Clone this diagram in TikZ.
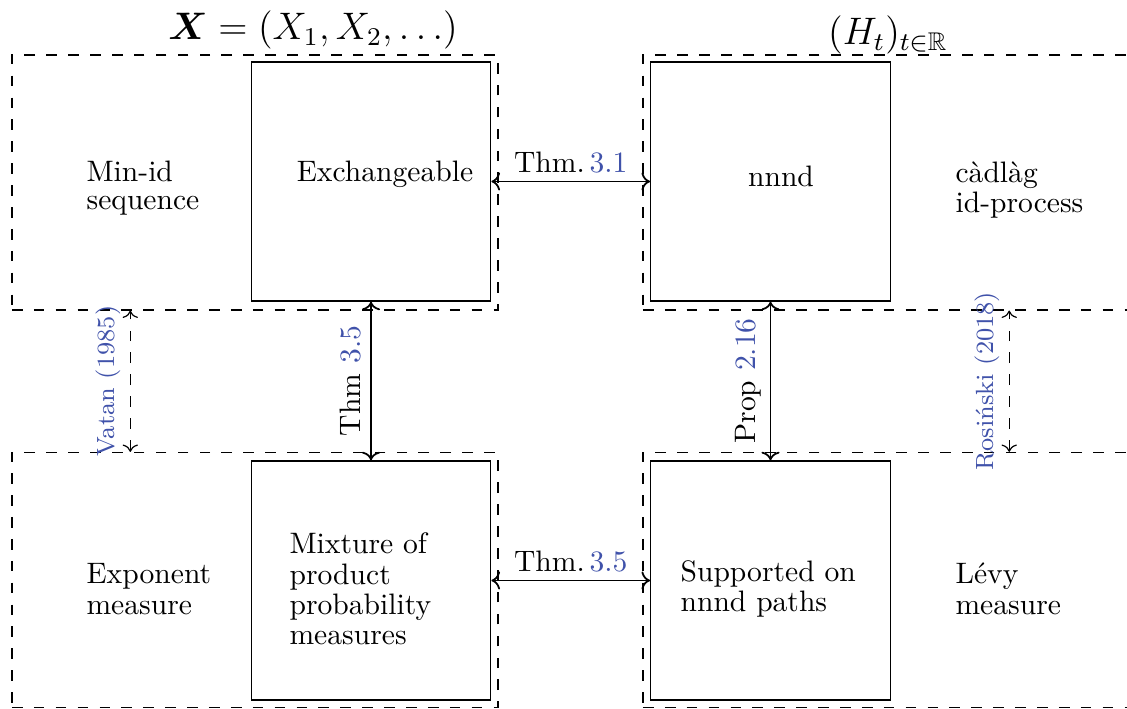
\documentclass[tikz,border=0pt]{standalone}
\usepackage{amsmath}
\usepackage{amssymb}
\usetikzlibrary{arrows.meta}
\definecolor{refBlue}{RGB}{64,82,170}
\tikzset{
  solidbox/.style={draw, minimum width=81pt, minimum height=80.8pt, inner sep=0pt},
  groupbox/.style={draw, dash pattern=on 3.6pt off 3.8pt, minimum width=164.3pt, minimum height=86.2pt, inner sep=0pt},
  txt/.style={align=left, inner sep=0pt, font=\fontsize{10}{10.3}\selectfont},
  equiv/.style={{To}-{To}, semithick},
  citeequiv/.style={{To}-{To}, dash pattern=on 3.6pt off 3.8pt},
  reflbl/.style={inner sep=2.4pt, font=\fontsize{10}{12}\selectfont},
  citelbl/.style={inner sep=3pt, font=\fontsize{8.4}{10}\selectfont, text=refBlue},
  toplbl/.style={anchor=base, font=\large, scale=1.08, transform shape}
}
\newcommand{\refno}[1]{\textcolor{refBlue}{#1}}

\begin{document}
\begin{tikzpicture}[x=0.338pt,y=0.338pt]
  \clip (0,0) rectangle (1127,709);
  % dashed groups
  \node[groupbox] (grpTL) at (255,526.5) {};
  \node[groupbox] (grpTR) at (886,526.5) {};
  \node[groupbox] (grpBL) at (255,129) {};
  \node[groupbox] (grpBR) at (886,129) {};
  % solid boxes
  \node[solidbox] (exch) at (371,527.5) {};
  \node[solidbox] (nnnd) at (770.5,527.5) {};
  \node[solidbox] (mix) at (371,128.5) {};
  \node[solidbox] (supp) at (770.5,128.5) {};

  \node[toplbl] (seqX) at (313,669) {$\boldsymbol{X}=(X_1,X_2,\ldots)$};
  \node[toplbl] (procH) at (888,664) {$(H_t)_{t\in\mathbb{R}}$};

  \node[txt, anchor=west] (minid) at (86,521) {Min-id\\[-1pt]sequence};
  \node[txt] (exchT) at (385,535) {Exchangeable};
  \node[txt] (nnndT) at (781,533) {nnnd};
  \node[txt, anchor=west] (cadlag) at (955,519) {càdlàg\\id-process};
  \node[txt, anchor=west] (expo) at (86,120) {Exponent\\measure};
  \node[txt, anchor=west] (mixT) at (289,120) {Mixture of\\product\\probability\\measures};
  \node[txt, anchor=west] (suppT) at (680,120) {Supported on\\nnnd paths};
  \node[txt, anchor=west] (levy) at (955,120) {Lévy\\measure};

  \draw[equiv] (exch.east) -- node[above, reflbl]{Thm.\,\refno{3.1}} (nnnd.west);
  \draw[equiv] (mix.east) -- node[above, reflbl]{Thm.\,\refno{3.5}} (supp.west);
  \draw[equiv] (mix.north) -- node[midway, above, sloped, reflbl, inner sep=3pt]{Thm \refno{3.5}} (exch.south);
  \draw[equiv] (supp.north) -- node[midway, above, sloped, reflbl, inner sep=3pt]{Prop \refno{2.16}} (nnnd.south);
  \draw[citeequiv] ([xshift=40.2pt]grpBL.north west) -- node[midway, above, sloped, citelbl]{Vatan (1985)} ([xshift=40.2pt]grpTL.south west);
  \draw[citeequiv] ([xshift=124pt]grpBR.north west) -- node[midway, above, sloped, citelbl]{Rosiński (2018)} ([xshift=124pt]grpTR.south west);
\end{tikzpicture}
\end{document}
